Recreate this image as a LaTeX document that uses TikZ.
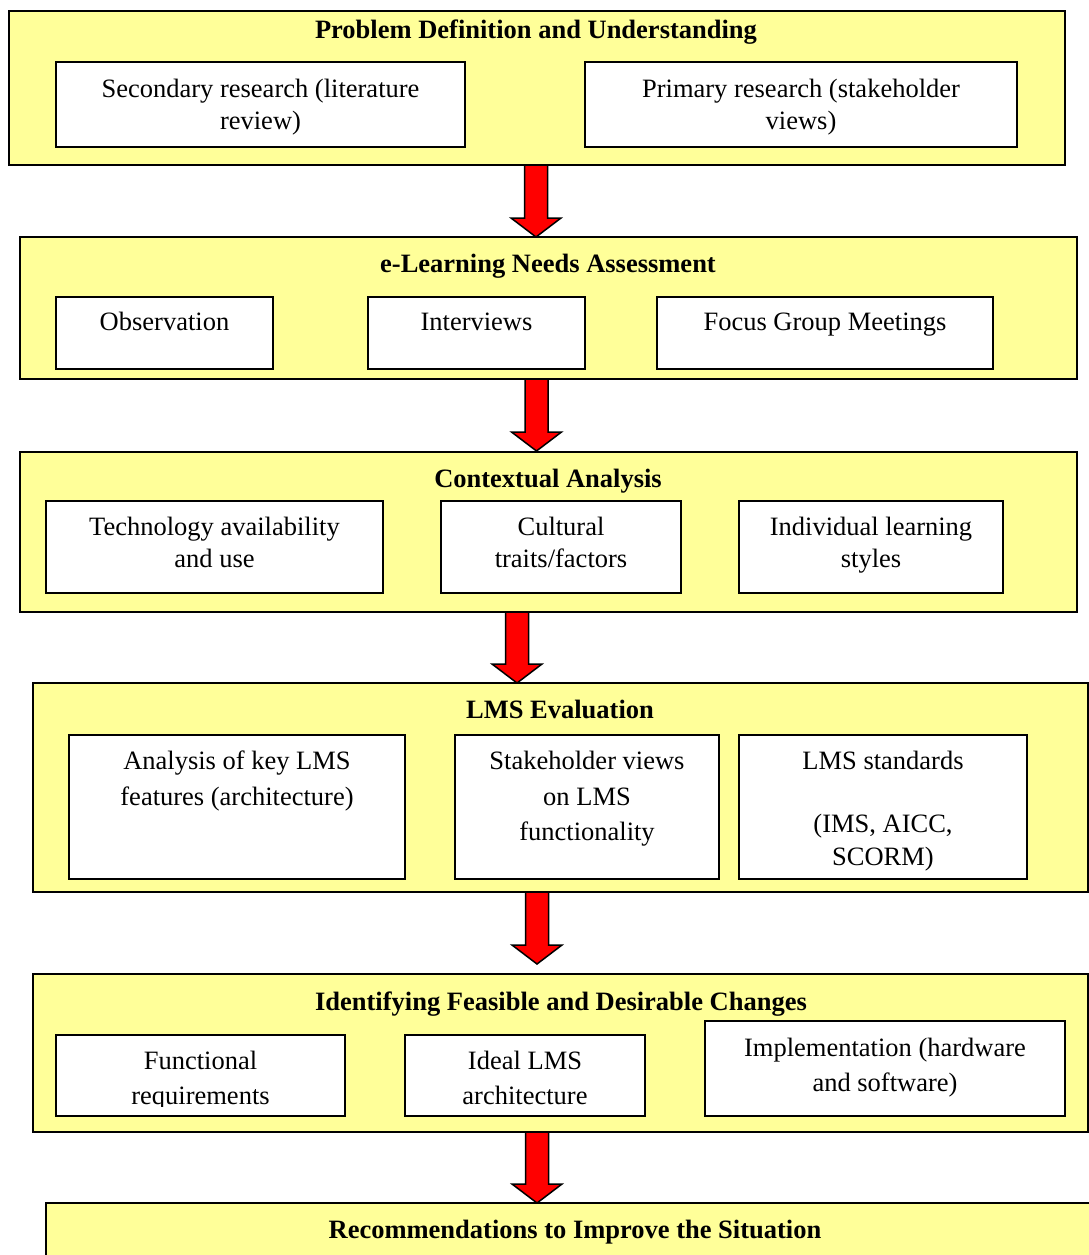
\documentclass[tikz,border=0pt]{standalone}
\usepackage{fontspec}
\setmainfont{Liberation Serif}
\usetikzlibrary{fit}
\definecolor{boxyellow}{RGB}{255,255,153}
\definecolor{arrowred}{RGB}{255,0,0}
\tikzset{
  obox/.style={draw=black, fill=boxyellow, line width=1.5pt, inner sep=0pt},
  ibox/.style={draw=black, fill=white, line width=2pt, inner sep=0pt},
  ttl/.style={anchor=base, inner sep=0pt, font=\fontsize{26.5}{33}\selectfont\bfseries},
  txt/.style={anchor=base, inner sep=0pt, font=\fontsize{26.5}{33}\selectfont},
  blockarr/.style={draw=black, fill=arrowred, line width=1.5pt, line join=miter}
}
\newcommand\blockarrow[3]{%
  \draw[blockarr] (#1-11.5,#2) -- (#1+11.5,#2) -- (#1+11.5,#3-19) -- (#1+25,#3-19)
    -- (#1,#3) -- (#1-25,#3-19) -- (#1-11.5,#3-19) -- cycle;}
\begin{document}
\begin{tikzpicture}[x=1pt,y=-1pt]
\useasboundingbox (0,0) rectangle (1089,1255);
\clip (0,0) rectangle (1089,1255);
\fill[white] (0,0) rectangle (1089,1255);

% ---------- Stage 1 ----------
\node[obox, fit={(9,11) (1065,165)}] (O1) {};
\node[ttl] (T1) at (536,39) {Problem Definition and Understanding};
\node[ibox, fit={(56,62) (465,147)}] (B11) {};
\node[ibox, fit={(585,62) (1017,147)}] (B12) {};
\node[txt] (t11a) at (260.5,97) {Secondary research (literature};
\node[txt] (t11b) at (260.5,129) {review)};
\node[txt] (t12a) at (801,97) {Primary research (stakeholder};
\node[txt] (t12b) at (801,129) {views)};

% ---------- Stage 2 ----------
\node[obox, fit={(20,237) (1077,379)}] (O2) {};
\node[ttl] (T2) at (548,272) {e-Learning Needs Assessment};
\node[ibox, fit={(56,297) (273,369)}] (B21) {};
\node[ibox, fit={(368,297) (585,369)}] (B22) {};
\node[ibox, fit={(657,297) (993,369)}] (B23) {};
\node[txt] (t21) at (164.5,330) {Observation};
\node[txt] (t22) at (476.5,330) {Interviews};
\node[txt] (t23) at (825,330) {Focus Group Meetings};

% ---------- Stage 3 ----------
\node[obox, fit={(20,452) (1077,612)}] (O3) {};
\node[ttl] (T3) at (548,487) {Contextual Analysis};
\node[ibox, fit={(46,501) (383,593)}] (B31) {};
\node[ibox, fit={(441,501) (681,593)}] (B32) {};
\node[ibox, fit={(739,501) (1003,593)}] (B33) {};
\node[txt] (t31a) at (214.5,535) {Technology availability};
\node[txt] (t31b) at (214.5,567) {and use};
\node[txt] (t32a) at (561,535) {Cultural};
\node[txt] (t32b) at (561,567) {traits/factors};
\node[txt] (t33a) at (871,535) {Individual learning};
\node[txt] (t33b) at (871,567) {styles};

% ---------- Stage 4 ----------
\node[obox, fit={(33,683) (1088,892)}] (O4) {};
\node[ttl] (T4) at (560,718) {LMS Evaluation};
\node[ibox, fit={(69,735) (405,879)}] (B41) {};
\node[ibox, fit={(455,735) (719,879)}] (B42) {};
\node[ibox, fit={(739,735) (1027,879)}] (B43) {};
\node[txt] (t41a) at (237,769) {Analysis of key LMS};
\node[txt] (t41b) at (237,805) {features (architecture)};
\node[txt] (t42a) at (587,769) {Stakeholder views};
\node[txt] (t42b) at (587,805) {on LMS};
\node[txt] (t42c) at (587,840) {functionality};
\node[txt] (t43a) at (883,769) {LMS standards};
\node[txt] (t43b) at (883,832) {(IMS, AICC,};
\node[txt] (t43c) at (883,865) {SCORM)};

% ---------- Stage 5 ----------
\node[obox, fit={(33,974) (1088,1132)}] (O5) {};
\node[ttl] (T5) at (561,1010) {Identifying Feasible and Desirable Changes};
\node[ibox, fit={(56,1035) (345,1116)}] (B51) {};
\node[ibox, fit={(405,1035) (645,1116)}] (B52) {};
\node[ibox, fit={(705,1021) (1065,1116)}] (B53) {};
\node[txt] (t51a) at (200.5,1069) {Functional};
\node[txt] (t52a) at (525,1069) {Ideal LMS};
\begin{scope}
  \clip (40,1030) rectangle (700,1106);
  \node[txt] (t51b) at (200.5,1104) {requirements};
  \node[txt] (t52b) at (525,1104) {architecture};
\end{scope}
\node[txt] (t53a) at (885,1056) {Implementation (hardware};
\node[txt] (t53b) at (885,1091) {and software)};

% ---------- Stage 6 ----------
\node[obox, fit={(46,1203) (1104,1290)}] (O6) {};
\node[ttl] (T6) at (575,1238) {Recommendations to Improve the Situation};

% ---------- Block arrows ----------
\blockarrow{536}{165}{237}
\blockarrow{536.5}{379}{451}
\blockarrow{517}{612}{683}
\blockarrow{537}{892}{964}
\blockarrow{537}{1132}{1203}
\end{tikzpicture}
\end{document}
